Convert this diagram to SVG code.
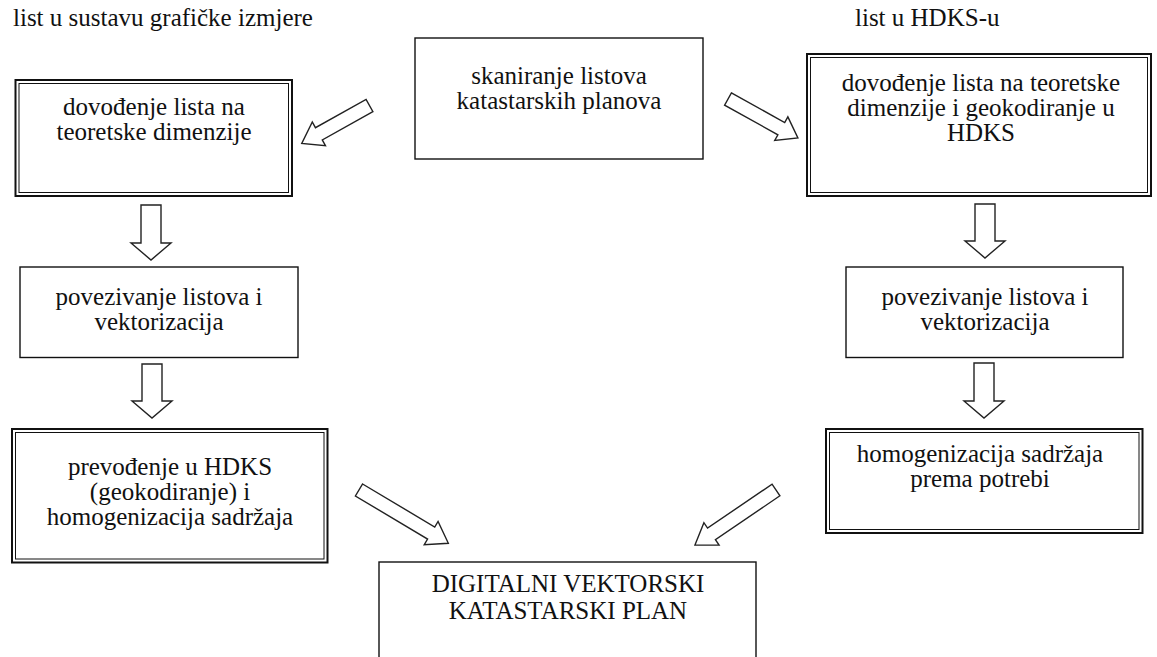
<svg xmlns="http://www.w3.org/2000/svg" width="1157" height="657" viewBox="0 0 1157 657">
<style>
text{font-family:'Liberation Serif','DejaVu Serif','Times New Roman',serif;font-size:25px;fill:#111;}
.c{text-anchor:middle;}
.b1{fill:#fff;stroke:#111;stroke-width:1.4;}
.bo{fill:#fff;stroke:#111;stroke-width:2;}
.bi{fill:none;stroke:#111;stroke-width:1;}
.ar{fill:#fff;stroke:#222;stroke-width:1.4;stroke-linejoin:miter;}
</style>
<rect width="1157" height="657" fill="#fff"/>
<g font-family="Liberation Serif, DejaVu Serif, serif">
<text x="13" y="26">list u sustavu grafičke izmjere</text>
<text x="855" y="26">list u HDKS-u</text>

<g id="scan">
<rect class="b1" x="415" y="38" width="288" height="121"/>
<text class="c" x="559" y="84">skaniranje listova</text>
<text class="c" x="559" y="109">katastarskih planova</text>
</g>

<g id="left1">
<rect class="bo" x="15.5" y="80" width="276.5" height="116"/>
<rect class="bi" x="19" y="83.5" width="269.5" height="109"/>
<text class="c" x="154" y="115">dovođenje lista na</text>
<text class="c" x="154" y="140">teoretske dimenzije</text>
</g>

<g id="right1">
<rect class="bo" x="807" y="54" width="344" height="142"/>
<rect class="bi" x="810.5" y="57.5" width="337" height="135"/>
<text class="c" x="981" y="91">dovođenje lista na teoretske</text>
<text class="c" x="981" y="116">dimenzije i geokodiranje u</text>
<text class="c" x="981" y="141">HDKS</text>
</g>

<g id="left2">
<rect class="b1" x="20" y="267" width="278" height="90.5"/>
<text class="c" x="159" y="305">povezivanje listova i</text>
<text class="c" x="159" y="330">vektorizacija</text>
</g>

<g id="right2">
<rect class="b1" x="846" y="267" width="277" height="90.5"/>
<text class="c" x="985" y="305">povezivanje listova i</text>
<text class="c" x="985" y="330">vektorizacija</text>
</g>

<g id="left3">
<rect class="bo" x="12" y="429" width="315.5" height="133.5"/>
<rect class="bi" x="15.5" y="432.5" width="308.5" height="126.5"/>
<text class="c" x="170" y="475">prevođenje u HDKS</text>
<text class="c" x="170" y="500">(geokodiranje) i</text>
<text class="c" x="170" y="525">homogenizacija sadržaja</text>
</g>

<g id="right3">
<rect class="bo" x="826" y="429" width="316.5" height="104"/>
<rect class="bi" x="829.5" y="432.5" width="309.5" height="97"/>
<text class="c" x="980" y="462">homogenizacija sadržaja</text>
<text class="c" x="980" y="487">prema potrebi</text>
</g>

<g id="final">
<rect class="b1" x="379" y="562" width="377" height="140"/>
<text class="c" x="568" y="592">DIGITALNI VEKTORSKI</text>
<text class="c" x="568" y="619">KATASTARSKI PLAN</text>
</g>
</g>

<g id="connectors">
<polygon class="ar" points="141,205 161,205 161,243 171,243 151,260 131,243 141,243"/>
<polygon class="ar" points="142,364 162,364 162,401 172,401 152,418 132,401 142,401"/>
<polygon class="ar" points="975,204 995,204 995,241 1005,241 985,258 965,241 975,241"/>
<polygon class="ar" points="974,363 994,363 994,401 1004,401 984,418 964,401 974,401"/>
<polygon class="ar" transform="translate(369.5,105.5) rotate(150.8)" points="0,-7 58,-7 58,-13.5 77.6,0 58,13.5 58,7 0,7"/>
<polygon class="ar" transform="translate(728,99) rotate(29.1)" points="0,-7 61,-7 61,-13.5 80,0 61,13.5 61,7 0,7"/>
<polygon class="ar" transform="translate(359,490) rotate(30.8)" points="0,-7 84,-7 84,-13.5 104,0 84,13.5 84,7 0,7"/>
<polygon class="ar" transform="translate(776,490) rotate(145.8)" points="0,-7 78,-7 78,-13.5 98,0 78,13.5 78,7 0,7"/>
</g>
</svg>
